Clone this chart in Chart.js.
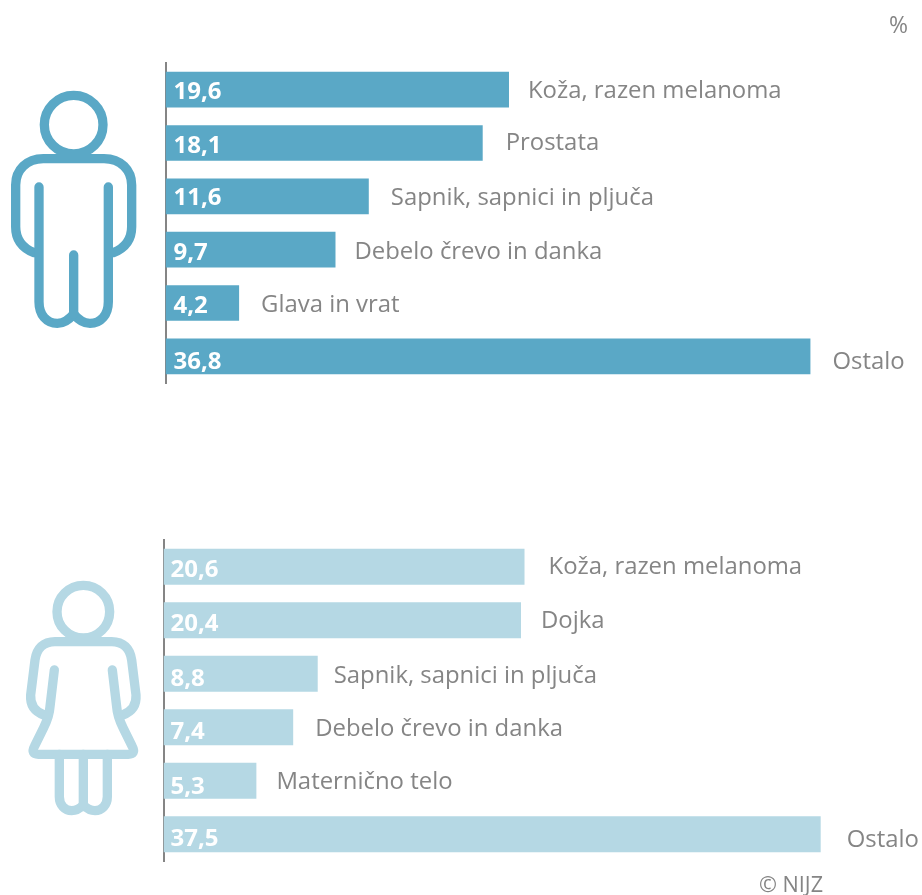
<!DOCTYPE html>
<html lang="sl">
<head>
<meta charset="utf-8">
<title>Rak po spolu</title>
<script src="https://cdn.jsdelivr.net/npm/chart.js@4"></script>
<style>
    html, body { margin: 0; padding: 0; background: #fff; }
    #page { position: relative; width: 922px; height: 895px; overflow: hidden; font-family: "Open Sans", sans-serif; color: #858585; }
    .panel { position: absolute; left: 0; width: 922px; }
    .icon { position: absolute; left: 0; fill: none; stroke-linecap: round; stroke-linejoin: round; stroke-width: 28; }
    .note { position: absolute; line-height: 24px; }
</style>
</head>
<body>
<div id="page">
    <div class="panel" style="top:0;height:447px"><canvas id="menChart"></canvas></div>
    <div class="panel" style="top:447px;height:448px"><canvas id="womenChart"></canvas></div>

    <svg class="icon" style="top:60px" width="260" height="330" viewBox="0 0 780 990" stroke="#5aa8c6">
        <circle cx="221" cy="194" r="88"/>
        <path d="M102 578 C70 565 47 540 47 500 L47 375 C47 330 80 296 130 296 L312 296 C362 296 395 330 395 375 L395 500 C395 540 372 565 340 578"/>
        <path d="M117 381 L117 725 C117 765 140 790 172 790 C192 790 208 778 221 762 C234 778 250 790 270 790 C302 790 325 765 325 725 L325 381"/>
        <path d="M221 585 L221 762"/>
    </svg>
    <svg class="icon" style="top:530px" width="260" height="340" viewBox="0 0 780 1020" stroke="#b5d8e4">
        <circle cx="250" cy="245" r="79"/>
        <path d="M132 555 C105 545 90 525 92 495 L105 390 C110 355 130 335 165 335 L335 335 C370 335 390 355 395 390 L408 495 C410 525 395 545 368 555"/>
        <path d="M163 420 L150 530 C148 560 140 575 130 595 L103 650 C95 665 100 673 115 673 L385 673 C400 673 405 665 397 650 L370 595 C360 575 352 560 350 530 L337 420"/>
        <path d="M178 673 L178 800 C178 825 195 842 215 842 C230 842 240 835 250 825 C260 835 270 842 285 842 C305 842 322 825 322 800 L322 673"/>
        <path d="M250 673 L250 825"/>
    </svg>

    <div class="note" style="left:889px;top:12px;font-size:23px">%</div>
    <div class="note" style="left:759px;top:872px;font-size:21.6px">© NIJZ</div>
</div>

<script>
// Data
const menLabels = ['Koža, razen melanoma', 'Prostata', 'Sapnik, sapnici in pljuča', 'Debelo črevo in danka', 'Glava in vrat', 'Ostalo'];
const menValues = [19.6, 18.1, 11.6, 9.7, 4.2, 36.8];
const womenLabels = ['Koža, razen melanoma', 'Dojka', 'Sapnik, sapnici in pljuča', 'Debelo črevo in danka', 'Maternično telo', 'Ostalo'];
const womenValues = [20.6, 20.4, 8.8, 7.4, 5.3, 37.5];
const axisMax = 40;

// Hand placed label nudges, the original labels do not sit on a strict grid
const menNudge = {
    gapX: [19, 23, 22, 19, 22, 22],
    labelY: [2, 0, 2, 3, 2, 6],
    valueY: [2, 3, 2, 3, 3, 6]
};
const womenNudge = {
    gapX: [24, 20, 16, 22, 20, 26],
    labelY: [0, 1, 2, 2, 1, 6],
    valueY: [3, 4, 5, 5, 6, 5]
};

// Writes the value inside each bar and the category right of it
const barTextPlugin = {
    id: 'barText',
    afterDatasetsDraw(chart, args, opts) {
        const ctx = chart.ctx;
        const bars = chart.getDatasetMeta(0).data;
        ctx.save();
        ctx.textBaseline = 'middle';
        ctx.textAlign = 'left';
        bars.forEach(function(bar, i) {
            ctx.font = 'bold 24px "Open Sans"';
            ctx.fillStyle = '#ffffff';
            ctx.fillText(chart.data.datasets[0].data[i].toFixed(1).replace('.', ','), chart.chartArea.left + opts.valueX, bar.y + opts.nudge.valueY[i]);
            ctx.font = '23.9px "Open Sans"';
            ctx.fillStyle = '#858585';
            ctx.fillText(chart.data.labels[i], bar.x + opts.nudge.gapX[i], bar.y + opts.nudge.labelY[i]);
        });
        ctx.restore();
    }
};

function createPanel(id, labels, values, color, padding, valueX, nudge) {
    new Chart(document.getElementById(id), {
        type: 'bar',
        data: {
            labels: labels,
            datasets: [{
                data: values,
                backgroundColor: color,
                categoryPercentage: 1,
                barPercentage: 0.67
            }]
        },
        options: {
            indexAxis: 'y',
            responsive: true,
            maintainAspectRatio: false,
            animation: false,
            layout: { padding: padding },
            plugins: {
                legend: { display: false },
                tooltip: { enabled: false },
                barText: { valueX: valueX, nudge: nudge }
            },
            scales: {
                x: { display: false, min: 0, max: axisMax },
                y: {
                    ticks: { display: false },
                    grid: { display: false, drawTicks: false },
                    border: { display: true, color: '#858585', width: 2 }
                }
            }
        },
        plugins: [barTextPlugin]
    });
}

createPanel('menChart', menLabels, menValues, '#5aa8c6', { left: 165.5, right: 55.5, top: 63, bottom: 64 }, 8, menNudge);
createPanel('womenChart', womenLabels, womenValues, '#b5d8e4', { left: 163.5, right: 57.5, top: 93, bottom: 34 }, 7, womenNudge);
</script>
</body>
</html>
